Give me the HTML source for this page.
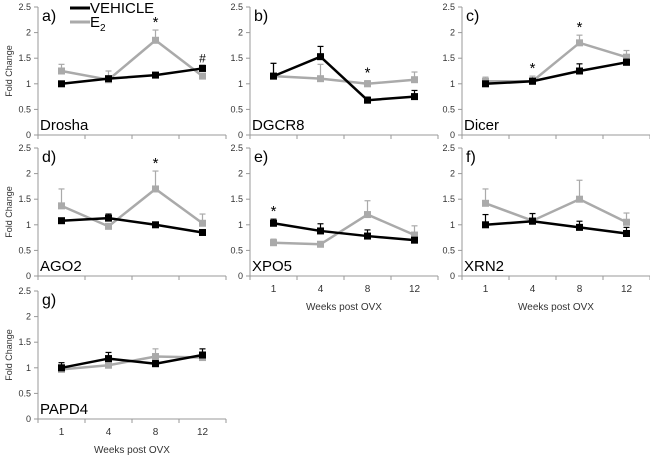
<!DOCTYPE html>
<html><head><meta charset="utf-8"><style>
body{margin:0;background:#fff;}
svg{display:block;font-family:"Liberation Sans",sans-serif;}
</style></head><body>
<svg id="c" width="650" height="460"></svg>
<script>
const weeks=["1","4","8","12"];
const panelLetters=["a)","b)","c)","d)","e)","f)","g)"];
const genes=["Drosha","DGCR8","Dicer","AGO2","XPO5","XRN2","PAPD4"];
const vehicle=[[1.0,1.1,1.17,1.3],[1.15,1.53,0.68,0.75],[1.0,1.05,1.25,1.42],[1.08,1.13,1.0,0.85],[1.03,0.88,0.78,0.7],[1.0,1.07,0.95,0.83],[1.0,1.18,1.08,1.25]];
const vehicleErr=[[0.04,0.05,0.04,0.06],[0.25,0.2,0.06,0.12],[0.05,0.06,0.14,0.06],[0.05,0.08,0.05,0.05],[0.08,0.14,0.12,0.05],[0.2,0.15,0.12,0.12],[0.1,0.12,0.06,0.12]];
const e2=[[1.25,1.08,1.85,1.15],[1.15,1.1,1.0,1.08],[1.05,1.05,1.8,1.52],[1.37,0.97,1.7,1.03],[0.65,0.62,1.2,0.8],[1.42,1.08,1.5,1.05],[0.97,1.05,1.22,1.2]];
const e2Err=[[0.13,0.17,0.2,0.04],[0.25,0.28,0.06,0.15],[0.08,0.1,0.15,0.13],[0.33,0.05,0.35,0.18],[0.07,0.05,0.27,0.18],[0.28,0.14,0.37,0.18],[0.05,0.04,0.15,0.06]];
const marks=[["","","*","#"],["","","*",""],["","*","*",""],["","","*",""],["*","","",""],["","","",""],["","","",""]];
const yTicks=[0,0.5,1,1.5,2,2.5];
const ymax=2.5;
const svg=document.getElementById('c');
const NS="http://www.w3.org/2000/svg";
function el(t,a,p){const e=document.createElementNS(NS,t);for(const k in a)e.setAttribute(k,a[k]);(p||svg).appendChild(e);return e;}
const axX=[38,250,462], y0s=[135,276,419], H=128, W=188;
const pos=[[0,0],[1,0],[2,0],[0,1],[1,1],[2,1],[0,2]];
const showX=[false,false,false,false,true,true,true];
pos.forEach(([ci,ri],p)=>{
  const g=el('g',{});
  
  
  const x0=axX[ci], y0=y0s[ri];
  const sy=v=>y0-v/ymax*H;
  const sx=i=>x0+W/8+i*W/4;
  el('line',{x1:x0,y1:y0-H,x2:x0,y2:y0,stroke:'#999'},g);
  el('line',{x1:x0,y1:y0,x2:x0+W,y2:y0,stroke:'#999'},g);
  yTicks.forEach(t=>{el('line',{x1:x0-4,x2:x0,y1:sy(t),y2:sy(t),stroke:'#999'},g);
    const tx=el('text',{x:x0-7,y:sy(t)+3,'font-size':9,'text-anchor':'end',fill:'#333'},g);tx.textContent=t;});
  for(let i=0;i<=4;i++)el('line',{x1:x0+i*W/4,x2:x0+i*W/4,y1:y0,y2:y0+4,stroke:'#999'},g);
  if(showX[p]){weeks.forEach((w,i)=>{const t=el('text',{x:sx(i),y:y0+16,'font-size':10,'text-anchor':'middle',fill:'#333'},g);t.textContent=w;});
    const t=el('text',{x:x0+W/2,y:y0+34,'font-size':10,'text-anchor':'middle',fill:'#333'},g);t.textContent='Weeks post OVX';
    }
  if(ci==0){const t=el('text',{x:0,y:0,'font-size':9,'text-anchor':'middle',fill:'#333',transform:`translate(12,${y0-H/2}) rotate(-90)`},g);t.textContent='Fold Change';
    }
  const lt=el('text',{x:x0+4,y:y0-H+14,'font-size':16,fill:'#000'},g);lt.textContent=panelLetters[p];
  const gn=el('text',{x:x0+2,y:y0-5,'font-size':15,fill:'#000'},g);gn.textContent=genes[p];
  [[e2[p],e2Err[p],'#aaa','e2'],[vehicle[p],vehicleErr[p],'#000','vehicle']].forEach(([d,er,c,nm])=>{
    d.forEach((v,i)=>{el('line',{x1:sx(i),x2:sx(i),y1:sy(v),y2:sy(v+er[i]),stroke:c,'stroke-width':1.2},g);
      el('line',{x1:sx(i)-3,x2:sx(i)+3,y1:sy(v+er[i]),y2:sy(v+er[i]),stroke:c,'stroke-width':1.2},g);});
    const pl=el('polyline',{points:d.map((v,i)=>sx(i)+','+sy(v)).join(' '),fill:'none',stroke:c,'stroke-width':2.5},g);
    
    d.forEach((v,i)=>{const r=el('rect',{x:sx(i)-3.5,y:sy(v)-3.5,width:7,height:7,fill:c},g);
      });
  });
  marks[p].forEach((m,i)=>{if(!m)return;const top=Math.max(vehicle[p][i]+vehicleErr[p][i],e2[p][i]+e2Err[p][i]);
    const t=el('text',{x:sx(i),y:sy(top)-3,'font-size':m=='*'?15:12,'text-anchor':'middle',fill:'#000'},g);t.textContent=m;});
});
const lg=el('g',{});


el('line',{x1:70,x2:90,y1:8,y2:8,stroke:'#000','stroke-width':3},lg);
let t=el('text',{x:90,y:13,'font-size':15,fill:'#000'},lg);t.textContent='VEHICLE';
el('line',{x1:70,x2:90,y1:22,y2:22,stroke:'#aaa','stroke-width':3},lg);
t=el('text',{x:90,y:27,'font-size':15,fill:'#000'},lg);t.innerHTML='E<tspan font-size="10" dy="4">2</tspan>';
</script>
</body></html>
